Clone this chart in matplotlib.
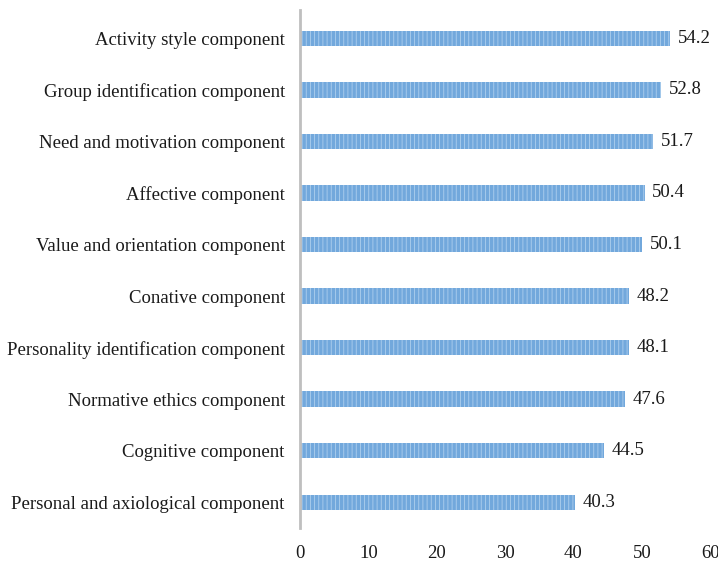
import matplotlib
matplotlib.use("Agg")
import matplotlib.pyplot as plt

categories = [
    "Personal and axiological component",
    "Cognitive component",
    "Normative ethics component",
    "Personality identification component",
    "Conative component",
    "Value and orientation component",
    "Affective component",
    "Need and motivation component",
    "Group identification component",
    "Activity style component",
]
values = [40.3, 44.5, 47.6, 48.1, 48.2, 50.1, 50.4, 51.7, 52.8, 54.2]
x_ticks = [0, 10, 20, 30, 40, 50, 60]

plt.rcParams["font.family"] = ["Liberation Serif", "DejaVu Serif"]
plt.rcParams["hatch.linewidth"] = 0.6

fig = plt.figure(figsize=(7.18, 5.68), dpi=100)
ax = fig.add_axes([0.418, 0.0704, 0.571, 0.912])

y = range(len(categories))
ax.barh(y, values, height=0.3, color="#72A8DC",
        edgecolor="#AECFEE", hatch="||||", linewidth=0)

for yi, v in zip(y, values):
    ax.text(v + 1.1, yi, f"{v:.1f}", va="center", ha="left", fontsize=13.5,
            color="#1a1a1a")

ax.set_xlim(0, 60)
ax.set_ylim(-0.5, 9.55)
ax.set_xticks(x_ticks)
ax.set_yticks(list(y))
ax.set_yticklabels(categories, fontsize=13.5, color="#1a1a1a")
ax.tick_params(axis="x", length=0, pad=12, labelsize=13.5, labelcolor="#1a1a1a")
ax.tick_params(axis="y", length=0, pad=11)

for side in ("top", "right", "bottom"):
    ax.spines[side].set_visible(False)
ax.spines["left"].set_color("#BFBFBF")
ax.spines["left"].set_linewidth(2)

fig.savefig("out.png", dpi=100)
